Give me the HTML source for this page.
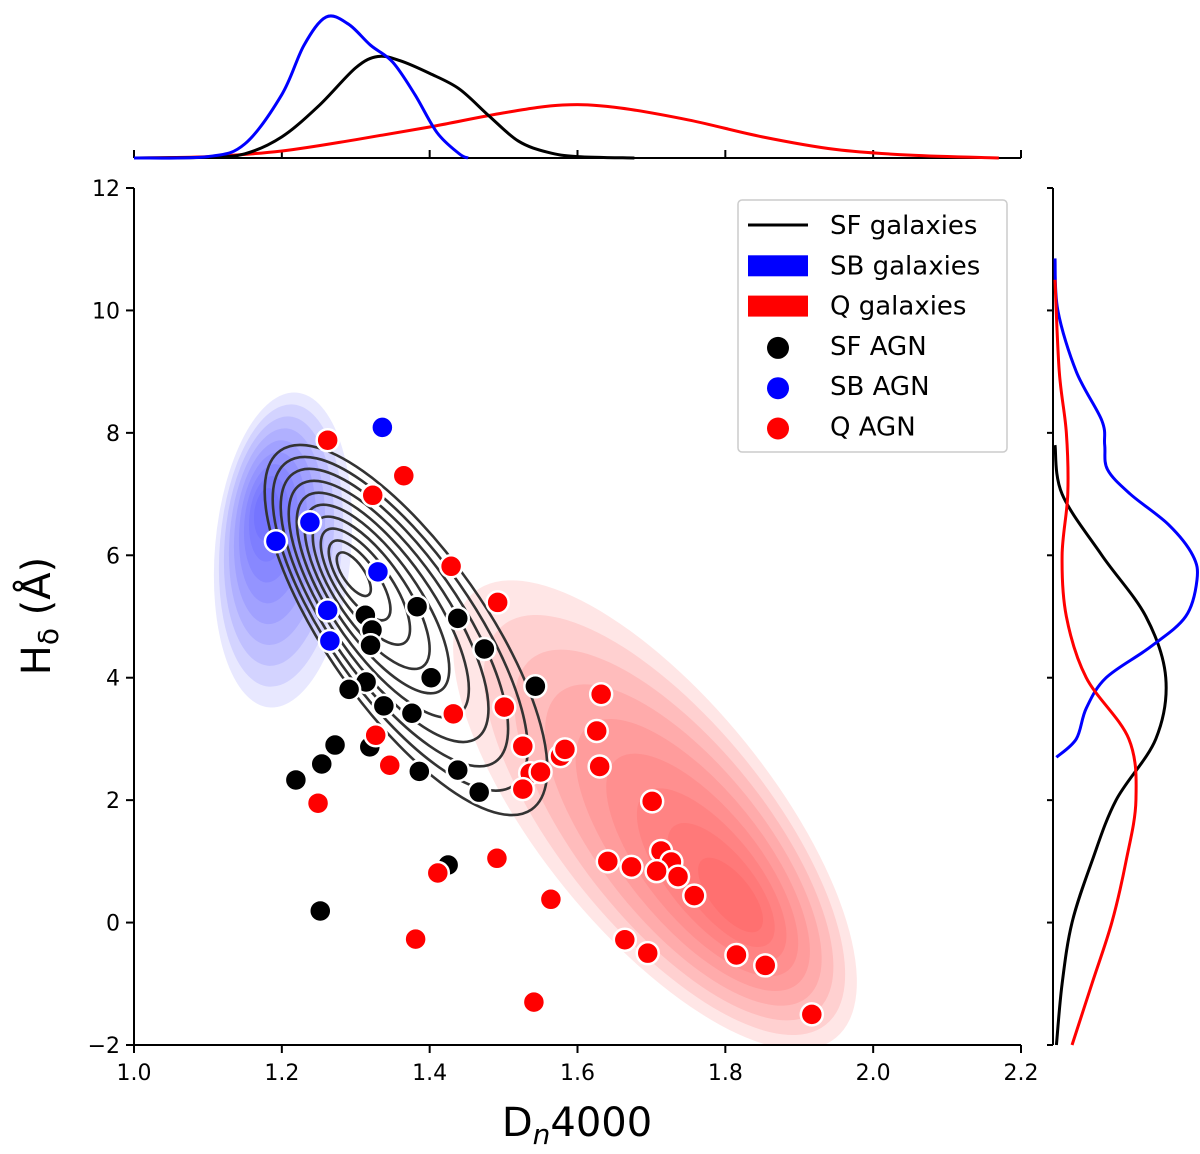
<!DOCTYPE html>
<html><head><meta charset="utf-8"><style>
body{margin:0;background:#fff;font-family:"Liberation Sans","DejaVu Sans",sans-serif;overflow:hidden}
svg text{font-family:"DejaVu Sans","Liberation Sans",sans-serif}
</style></head><body>
<svg id="c" width="1200" height="1149" xmlns="http://www.w3.org/2000/svg"><defs><clipPath id="pc"><rect x="134" y="188" width="887" height="857"/></clipPath></defs></svg>
<script>
const xTicks=[1.0,1.2,1.4,1.6,1.8,2.0,2.2];
const yTicks=[-2,0,2,4,6,8,10,12];
const sfAgnX=[1.438,1.313,1.322,1.32,1.383,1.474,1.543,1.402,1.314,1.291,1.338,1.376,1.272,1.319,1.254,1.219,1.386,1.438,1.467,1.425,1.252];
const sfAgnY=[4.97,5.02,4.78,4.53,5.16,4.47,3.86,4.0,3.93,3.81,3.54,3.42,2.9,2.87,2.59,2.33,2.47,2.49,2.13,0.94,0.19];
const sbAgnX=[1.336,1.192,1.238,1.33,1.262,1.265];
const sbAgnY=[8.09,6.23,6.54,5.73,5.1,4.6];
const qAgnX=[1.262,1.323,1.365,1.429,1.492,1.432,1.327,1.346,1.249,1.501,1.632,1.626,1.577,1.526,1.583,1.536,1.55,1.526,1.63,1.701,1.713,1.641,1.673,1.727,1.707,1.736,1.758,1.491,1.411,1.564,1.381,1.664,1.695,1.815,1.854,1.541,1.917];
const qAgnY=[7.88,6.98,7.3,5.82,5.23,3.41,3.06,2.57,1.95,3.52,3.73,3.13,2.72,2.88,2.83,2.44,2.46,2.18,2.55,1.98,1.17,1.0,0.91,0.99,0.84,0.75,0.44,1.05,0.81,0.38,-0.27,-0.28,-0.5,-0.53,-0.7,-1.3,-1.5];
const topSbX=[1.0,1.1,1.15,1.2,1.23,1.26,1.29,1.32,1.35,1.38,1.41,1.44,1.452];
const topSbD=[0,0.01,0.1,0.45,0.8,1.0,0.95,0.8,0.68,0.45,0.18,0.03,0];
const topSfX=[1.0,1.1,1.15,1.2,1.25,1.3,1.33,1.36,1.4,1.44,1.48,1.52,1.56,1.6,1.677];
const topSfD=[0,0.005,0.03,0.15,0.37,0.64,0.72,0.69,0.6,0.49,0.3,0.12,0.04,0.01,0];
const topQX=[1.0,1.1,1.2,1.3,1.4,1.5,1.58,1.65,1.75,1.85,1.95,2.05,2.17];
const topQD=[0,0.01,0.05,0.13,0.22,0.32,0.376,0.36,0.27,0.15,0.06,0.02,0];
const rSbY=[10.85,10,9,8.2,7.8,7.4,7,6.5,6,5.6,5,4.5,4,3.5,3,2.7];
const rSbD=[0,0.02,0.15,0.33,0.35,0.37,0.53,0.8,0.97,1.0,0.92,0.67,0.36,0.22,0.15,0.01];
const rSfY=[7.8,7,6,5,4,3,2,1,0,-1,-2];
const rSfD=[0,0.05,0.33,0.64,0.78,0.71,0.43,0.26,0.12,0.05,0.01];
const rQY=[10.5,9,8,7,6,5,4,3,2,1,0,-1,-2];
const rQD=[0,0.03,0.08,0.09,0.05,0.08,0.22,0.52,0.57,0.5,0.4,0.26,0.12];

const svg=document.getElementById('c');
const NS='http://www.w3.org/2000/svg';
const X0=134,X1=1021,Y0=1045,Y1=188;
const sx=v=>X0+(v-1.0)/(2.2-1.0)*(X1-X0);
const sy=v=>Y0-(v+2)/(14)*(Y0-Y1);
function mk(tag,attrs,parent){const e=document.createElementNS(NS,tag);for(const k in attrs)e.setAttribute(k,attrs[k]);(parent||svg).appendChild(e);return e;}
function smooth(pts){let d='M'+pts[0][0]+','+pts[0][1];for(let i=0;i<pts.length-1;i++){const p0=pts[i-1]||pts[i],p1=pts[i],p2=pts[i+1],p3=pts[i+2]||p2;d+=' C'+(p1[0]+(p2[0]-p0[0])/6)+','+(p1[1]+(p2[1]-p0[1])/6)+' '+(p2[0]-(p3[0]-p1[0])/6)+','+(p2[1]-(p3[1]-p1[1])/6)+' '+p2[0]+','+p2[1];}return d;}

const kde=mk('g',{'clip-path':'url(#pc)'});


for(let i=0;i<9;i++){const f=1-i/9;const cx=655+85*(1-f),cy=815+90*(1-f);
 const e=mk('ellipse',{cx:cx,cy:cy,rx:272*f+15,ry:108*f+8,fill:'#ff3030','fill-opacity':0.12,transform:`rotate(51 ${cx} ${cy})`},kde);
 
 }
for(let i=0;i<9;i++){const f=1-i/9;const cx=283-18*(1-f),cy=550-40*(1-f);
 const e=mk('ellipse',{cx:cx,cy:cy,rx:148*f+10,ry:62*f+6,fill:'#3030ff','fill-opacity':0.11,transform:`rotate(95 ${cx} ${cy})`},kde);
 
 }
for(let i=0;i<10;i++){const f=1-i/10;const cx=348+58*f,cy=568+62*f;
 const e=mk('ellipse',{cx:cx,cy:cy,rx:215*f+4,ry:76*f+3,fill:'none',stroke:'#333','stroke-width':2.6,transform:`rotate(55 ${cx} ${cy})`},kde);
 
 }

function pts(xs,ys,col,name){const g=mk('g',{});
 xs.forEach((x,i)=>{const c=mk('circle',{cx:sx(x),cy:sy(ys[i]),r:11,fill:col,stroke:'#fff','stroke-width':2.5},g);
 
 });}
pts(sfAgnX,sfAgnY,'#000','sf-agn');
pts(sbAgnX,sbAgnY,'#0000ff','sb-agn');
pts(qAgnX,qAgnY,'#ff0000','q-agn');

const ax=mk('g',{stroke:'#000','stroke-width':2});


mk('line',{x1:X0,y1:Y1,x2:X0,y2:Y0},ax);mk('line',{x1:X0,y1:Y0,x2:X1,y2:Y0},ax);
xTicks.forEach(t=>{mk('line',{x1:sx(t),y1:Y0,x2:sx(t),y2:Y0+8},ax);
 const tx=mk('text',{x:sx(t),y:Y0+35,'font-size':22,'text-anchor':'middle',stroke:'none',fill:'#000'});tx.textContent=t.toFixed(1);
 
 mk('line',{x1:sx(t),y1:158,x2:sx(t),y2:150},ax);});
yTicks.forEach(t=>{mk('line',{x1:X0,y1:sy(t),x2:X0-8,y2:sy(t)},ax);
 const tx=mk('text',{x:X0-14,y:sy(t)+8,'font-size':22,'text-anchor':'end',stroke:'none',fill:'#000'});tx.textContent=(t<0?'\u2212'+(-t):t);
 
 mk('line',{x1:1053,y1:sy(t),x2:1047,y2:sy(t)},ax);});
mk('line',{x1:X0,y1:158,x2:X1,y2:158},ax);
mk('line',{x1:1053,y1:Y1,x2:1053,y2:Y0},ax);
const xl=mk('text',{x:577,y:1136,'font-size':40,'text-anchor':'middle'});xl.innerHTML='D<tspan font-size="28" font-style="italic" dy="8">n</tspan><tspan dy="-8">4000</tspan>';

const yl=mk('text',{x:0,y:0,'font-size':40,'text-anchor':'middle',transform:'translate(50,616) rotate(-90)'});yl.innerHTML='H<tspan font-size="28" dy="8">δ</tspan><tspan dy="-8"> (Å)</tspan>';


function topCurve(xs,ds,col,name){const p=xs.map((x,i)=>[sx(x),158-ds[i]*141]);const e=mk('path',{d:smooth(p),fill:'none',stroke:col,'stroke-width':3});}
topCurve(topQX,topQD,'#ff0000','top-q-density');
topCurve(topSfX,topSfD,'#000','top-sf-density');
topCurve(topSbX,topSbD,'#0000ff','top-sb-density');
function rCurve(ys,ds,col,name){const p=ys.map((y,i)=>[1055+ds[i]*142,sy(y)]);const e=mk('path',{d:smooth(p),fill:'none',stroke:col,'stroke-width':3});}
rCurve(rSfY,rSfD,'#000','right-sf-density');
rCurve(rSbY,rSbD,'#0000ff','right-sb-density');
rCurve(rQY,rQD,'#ff0000','right-q-density');

const lg=mk('g',{});
mk('rect',{x:738,y:200,width:269,height:252,fill:'#fff','fill-opacity':0.85,stroke:'#ccc','stroke-width':1.5,rx:4},lg);
const items=[['SF galaxies','line','#000'],['SB galaxies','patch','#0000ff'],['Q galaxies','patch','#ff0000'],['SF AGN','dot','#000'],['SB AGN','dot','#0000ff'],['Q AGN','dot','#ff0000']];
items.forEach((it,i)=>{const y=225+i*40.3;const g=mk('g',{},lg);
 if(it[1]=='line')mk('line',{x1:748,y1:y,x2:808,y2:y,stroke:it[2],'stroke-width':3},g);
 else if(it[1]=='patch')mk('rect',{x:748,y:y-10,width:60,height:21,fill:it[2]},g);
 else mk('circle',{cx:778,cy:y+2,r:11,fill:it[2]},g);
 const t=mk('text',{x:830,y:y+9,'font-size':26},g);t.textContent=it[0];});
</script>
</body></html>
